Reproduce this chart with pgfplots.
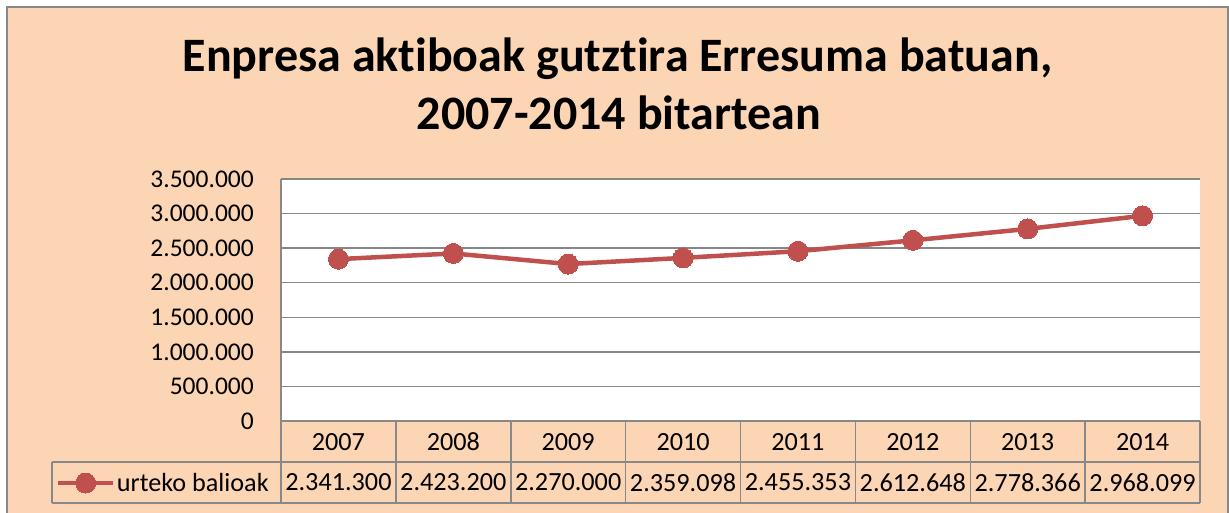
\documentclass[border=0pt]{standalone}
\usepackage{pgfplots}
\pgfplotsset{compat=1.18}
\usepackage{fontspec}
\setmainfont{Carlito}[Ligatures=NoCommon]
\definecolor{peach}{HTML}{FCD5B4}
\definecolor{frame}{HTML}{888888}
\definecolor{gridc}{HTML}{868686}
\definecolor{linec}{HTML}{C0504D}
\newcommand{\lbl}{\fontsize{25.5bp}{30bp}\selectfont}
\newcommand{\tbl}{\fontsize{26.2bp}{30bp}\selectfont}
\begin{document}
\begin{tikzpicture}
\begin{scope}[x=1bp,y=1bp]
\path[use as bounding box] (0,0) rectangle (1229,-513);
\fill[white] (0,0) rectangle (1229,-513);
\draw[frame, line width=1.5bp, fill=peach] (7,-7) rectangle (1228,-530);
\node[font=\fontsize{48bp}{58bp}\selectfont\bfseries, anchor=base, inner sep=0] at (617.5,-72) {Enpresa aktiboak gutztira Erresuma batuan,};
\node[font=\fontsize{48bp}{58bp}\selectfont\bfseries, anchor=base, inner sep=0] at (619,-130) {2007-2014 bitartean};
\end{scope}
\begin{axis}[
  name=ax,
  at={(281bp,-421bp)}, anchor=south west,
  scale only axis, width=919bp, height=242bp,
  xmin=-0.5, xmax=7.5, ymin=0, ymax=3500000,
  scaled y ticks=false,
  axis background/.style={fill=white},
  axis line style={draw=none},
  ymajorgrids, grid style={gridc, line width=1.3bp},
  major tick length=0,
  ytick={0,500000,1000000,1500000,2000000,2500000,3000000,3500000},
  yticklabels={0,500.000,1.000.000,1.500.000,2.000.000,2.500.000,3.000.000,3.500.000},
  yticklabel style={font=\lbl, anchor=east, inner sep=0pt, xshift=-27bp},
  xtick={0,...,7},
  xticklabels={2007,2008,2009,2010,2011,2012,2013,2014},
  xticklabel style={font=\tbl, anchor=center, inner sep=0pt, yshift=-21bp},
  clip=false,
  legend style={draw=none, fill=none, inner sep=0pt, outer sep=0pt, at={(-0.2449,-0.2562)}, anchor=west, font=\tbl, nodes={inner sep=1.5bp}},
  legend image code/.code={\draw[mark repeat=2,mark phase=2,#1] plot coordinates {(0bp,0bp) (27.5bp,0bp) (55bp,0bp)};},
]
\addplot[linec, line width=4.5bp, mark=*, mark size=10bp, mark options={fill=linec, draw=linec, line width=0pt}]
  coordinates {(0,2341300) (1,2423200) (2,2270000) (3,2359098) (4,2455353) (5,2612648) (6,2778366) (7,2968099)};
\addlegendentry{urteko balioak}
\end{axis}
\begin{scope}[x=1bp,y=1bp]
\begin{scope}[frame, line width=1.5bp]
\draw (281,-421) -- (1200,-421);
\draw (52,-462) -- (1200,-462);
\draw (52,-503) -- (1200,-503);
\draw (281,-179) -- (281,-503);
\draw (52,-462) -- (52,-503);
\foreach \k in {1,...,8} {\draw ({281+\k*114.875},-421) -- ({281+\k*114.875},-503);}
\end{scope}
\foreach \v [count=\i from 0] in {2.341.300,2.423.200,2.270.000,2.359.098,2.455.353,2.612.648,2.778.366,2.968.099} {
  \node[font=\tbl, inner sep=0pt, anchor=center] at ({281+57.4375+\i*114.875},-482.5) {\v};
}
\end{scope}
\end{tikzpicture}
\end{document}
